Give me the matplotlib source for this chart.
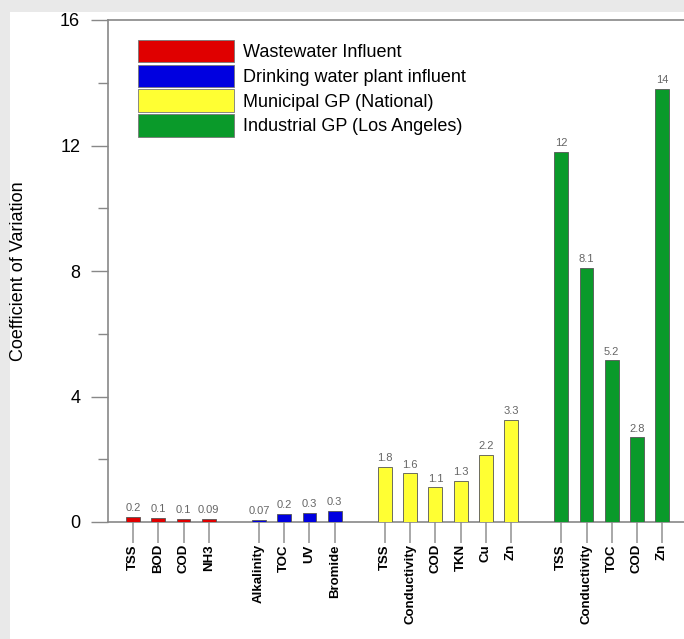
import matplotlib
matplotlib.use("Agg")
import matplotlib.pyplot as plt
from matplotlib.patches import Rectangle, Patch

plt.rcParams["font.family"] = ["Liberation Sans", "DejaVu Sans"]

# ---- data ---------------------------------------------------------------
groups = ["Wastewater Influent", "Drinking water plant influent",
          "Municipal GP (National)", "Industrial GP (Los Angeles)"]
group_colors = ["#e00000", "#0000e0", "#ffff33", "#0a9a2a"]

params = [
    ["TSS", "BOD", "COD", "NH3"],
    ["Alkalinity", "TOC", "UV", "Bromide"],
    ["TSS", "Conductivity", "COD", "TKN", "Cu", "Zn"],
    ["TSS", "Conductivity", "TOC", "COD", "Zn"],
]
heights = [
    [0.17, 0.12, 0.1, 0.09],
    [0.07, 0.25, 0.3, 0.35],
    [1.75, 1.55, 1.1, 1.3, 2.15, 3.25],
    [11.8, 8.1, 5.15, 2.7, 13.8],
]
value_labels = [
    ["0.2", "0.1", "0.1", "0.09"],
    ["0.07", "0.2", "0.3", "0.3"],
    ["1.8", "1.6", "1.1", "1.3", "2.2", "3.3"],
    ["12", "8.1", "5.2", "2.8", "14"],
]

# ---- figure -------------------------------------------------------------
fig = plt.figure(figsize=(6.84, 6.39), dpi=100, facecolor="#e9e9e9")
fig.patches.append(Rectangle((10 / 684, 0), 1, 1 - 12 / 639, transform=fig.transFigure,
                             facecolor="white", edgecolor="none", zorder=-10))
ax = fig.add_axes([108 / 684, 1 - 522 / 639, 1 - 108 / 684, (522 - 20) / 639])
ax.set_facecolor("white")

xpos, xlabels = [], []
pos = 0
for gi, (names, hs, labs) in enumerate(zip(params, heights, value_labels)):
    xs = list(range(pos, pos + len(names)))
    ax.bar(xs, hs, width=0.55, color=group_colors[gi], edgecolor="#555555", linewidth=0.6, zorder=3)
    for x, h, t in zip(xs, hs, labs):
        ax.text(x, h + 0.12, t, ha="center", va="bottom", fontsize=8, color="#666666")
    xpos += xs
    xlabels += names
    pos += len(names) + 1

ax.set_xlim(-1, 21.87)
ax.set_ylim(0, 16)
ax.set_yticks([0, 4, 8, 12, 16])
ax.set_yticks([2, 6, 10, 14], minor=True)
ax.tick_params(axis="y", which="major", length=12, width=1, color="#888888",
               labelsize=13, pad=8)
ax.tick_params(axis="y", which="minor", length=7, width=1, color="#888888")
ax.set_xticks(xpos)
ax.set_xticklabels(xlabels, rotation=90, fontsize=9.5, fontweight="bold")
ax.tick_params(axis="x", length=15, width=1.2, color="#999999", pad=1)

for s in ("left", "bottom", "top"):
    ax.spines[s].set_color("#888888")
    ax.spines[s].set_linewidth(1.2)
ax.spines["right"].set_visible(False)

ax.set_ylabel("Coefficient of Variation", fontsize=13, labelpad=24)

handles = [Patch(facecolor=c, edgecolor="#777777", linewidth=0.6) for c in group_colors]
ax.legend(handles, groups, loc="upper left", bbox_to_anchor=(0.04, 0.975),
          frameon=False, fontsize=13, handlelength=5.3, handleheight=1.55,
          labelspacing=0.12, handletextpad=0.5, borderaxespad=0)

fig.savefig("out.png", dpi=100, facecolor=fig.get_facecolor())
